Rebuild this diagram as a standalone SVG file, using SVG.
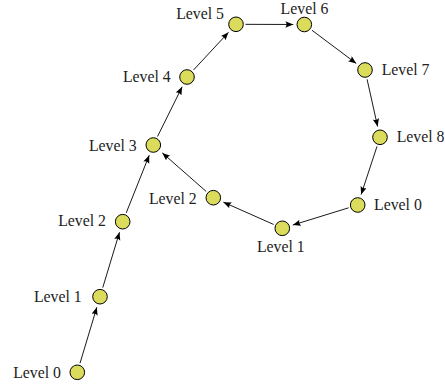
<svg xmlns="http://www.w3.org/2000/svg" width="445" height="390" viewBox="0 0 445 390">
<style>
.n{fill:#dcdc5c;stroke:#000;stroke-width:1}
text{font-family:'Liberation Serif','Times New Roman',serif;font-size:15.8px;fill:#222}
.e{stroke:#000;stroke-width:0.9;fill:none;marker-end:url(#ah)}
</style>
<defs>
<marker id="ah" markerUnits="userSpaceOnUse" markerWidth="9" markerHeight="7" refX="8" refY="3.2" orient="auto">
<path d="M0,0 Q2.5,3.2 0,6.4 L8,3.2 Z" fill="#000"/>
</marker>
</defs>
<rect width="445" height="390" fill="#fff"/>
<g id="connectors">
<line class="e" x1="80.03" y1="363.2" x2="96.84" y2="307.24"/>
<line class="e" x1="102.75" y1="287.61" x2="119.51" y2="232.23"/>
<line class="e" x1="126.22" y1="212.88" x2="149.22" y2="155.22"/>
<line class="e" x1="157.52" y1="136.49" x2="182.11" y2="86.86"/>
<line class="e" x1="193.47" y1="70.04" x2="228.51" y2="32.36"/>
<line class="e" x1="245.5" y1="24.33" x2="293.3" y2="24.47"/>
<line class="e" x1="311.9" y1="30.2" x2="356.2" y2="63.4"/>
<line class="e" x1="367.07" y1="79.27" x2="377.61" y2="126.56"/>
<line class="e" x1="377.03" y1="146.32" x2="361.14" y2="194.55"/>
<line class="e" x1="348.62" y1="207.8" x2="292.81" y2="225.05"/>
<line class="e" x1="273.62" y1="224.45" x2="223.36" y2="202.16"/>
<line class="e" x1="206.16" y1="191.43" x2="162.3" y2="152.9"/>
</g>
<g id="a0"><circle class="n" cx="77.3" cy="372.3" r="7.3"/><text x="61" y="378.3" text-anchor="end">Level 0</text></g>
<g id="a1"><circle class="n" cx="100" cy="296.7" r="7.3"/><text x="81.7" y="302" text-anchor="end">Level 1</text></g>
<g id="a2"><circle class="n" cx="122.7" cy="221.7" r="7.3"/><text x="106" y="226" text-anchor="end">Level 2</text></g>
<g id="a3"><circle class="n" cx="153.3" cy="145" r="7.3"/><text x="136.7" y="150.7" text-anchor="end">Level 3</text></g>
<g id="a4"><circle class="n" cx="187" cy="77" r="7.3"/><text x="170.7" y="82.3" text-anchor="end">Level 4</text></g>
<g id="a5"><circle class="n" cx="236" cy="24.3" r="7.3"/><text x="224" y="19" text-anchor="end">Level 5</text></g>
<g id="a6"><circle class="n" cx="304.3" cy="24.5" r="7.3"/><text x="304.5" y="13.8" text-anchor="middle">Level 6</text></g>
<g id="a7"><circle class="n" cx="365" cy="70" r="7.3"/><text x="381.7" y="75">Level 7</text></g>
<g id="a8"><circle class="n" cx="380" cy="137.3" r="7.3"/><text x="396.7" y="142.3">Level 8</text></g>
<g id="b0"><circle class="n" cx="357.7" cy="205" r="7.3"/><text x="374" y="210">Level 0</text></g>
<g id="b1"><circle class="n" cx="282.3" cy="228.3" r="7.3"/><text x="280.8" y="251.7" text-anchor="middle">Level 1</text></g>
<g id="b2"><circle class="n" cx="213.3" cy="197.7" r="7.3"/><text x="196.7" y="203.7" text-anchor="end">Level 2</text></g>
</svg>
